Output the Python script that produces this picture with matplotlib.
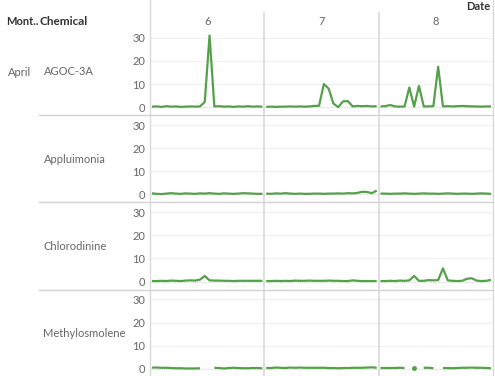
import numpy as np
import matplotlib
matplotlib.use("Agg")
import matplotlib.pyplot as plt
from matplotlib.lines import Line2D

plt.rcParams['font.family'] = ['Lato', 'DejaVu Sans']

month = "April"
chemicals = ["AGOC-3A", "Appluimonia", "Chlorodinine", "Methylosmolene"]
days = ["6", "7", "8"]
hours = list(range(24))
nan = np.nan

agoc_3a = [
    [0.2, 0.3, 0.1, 0.4, 0.2, 0.3, 0.1, 0.2, 0.3, 0.2, 0.3, 2.2, 31.0, 0.3, 0.4, 0.2, 0.3, 0.1, 0.3, 0.2, 0.4, 0.2, 0.3, 0.2],
    [0.1, 0.2, 0.1, 0.2, 0.2, 0.3, 0.2, 0.3, 0.2, 0.3, 0.5, 0.6, 10.0, 8.0, 1.5, 0.0, 2.5, 2.6, 0.3, 0.5, 0.4, 0.5, 0.3, 0.4],
    [0.3, 0.4, 0.9, 0.3, 0.2, 0.3, 8.5, 0.2, 9.2, 0.3, 0.3, 0.4, 17.5, 0.3, 0.4, 0.3, 0.4, 0.5, 0.4, 0.3, 0.3, 0.2, 0.3, 0.3],
]
appluimonia = [
    [0.4, 0.2, 0.1, 0.3, 0.5, 0.3, 0.2, 0.4, 0.3, 0.2, 0.4, 0.3, 0.5, 0.3, 0.2, 0.4, 0.3, 0.2, 0.3, 0.5, 0.4, 0.3, 0.2, 0.2],
    [0.3, 0.2, 0.4, 0.3, 0.5, 0.3, 0.2, 0.3, 0.2, 0.2, 0.3, 0.3, 0.2, 0.3, 0.3, 0.4, 0.3, 0.5, 0.4, 0.6, 1.1, 1.0, 0.5, 1.6],
    [0.3, 0.3, 0.2, 0.3, 0.3, 0.4, 0.3, 0.2, 0.3, 0.4, 0.3, 0.3, 0.2, 0.3, 0.4, 0.3, 0.2, 0.3, 0.3, 0.2, 0.3, 0.4, 0.3, 0.2],
]
chlorodinine = [
    [0.2, 0.2, 0.3, 0.2, 0.4, 0.3, 0.2, 0.4, 0.5, 0.4, 0.8, 2.4, 0.5, 0.4, 0.4, 0.3, 0.3, 0.2, 0.3, 0.3, 0.3, 0.3, 0.3, 0.3],
    [0.2, 0.2, 0.3, 0.2, 0.3, 0.2, 0.4, 0.3, 0.3, 0.4, 0.3, 0.3, 0.3, 0.4, 0.3, 0.3, 0.2, 0.2, 0.5, 0.3, 0.2, 0.2, 0.2, 0.2],
    [0.2, 0.2, 0.3, 0.2, 0.4, 0.3, 0.5, 2.4, 0.3, 0.3, 0.6, 0.5, 0.6, 5.7, 0.5, 0.3, 0.2, 0.3, 1.2, 1.4, 0.4, 0.2, 0.3, 0.7],
]
methylosmolene = [
    [0.5, 0.5, 0.4, 0.4, 0.3, 0.2, 0.2, 0.1, 0.1, 0.1, 0.2, nan, nan, 0.4, 0.3, 0.1, 0.3, 0.4, 0.3, 0.2, 0.2, 0.3, 0.3, 0.2],
    [0.3, 0.3, 0.5, 0.4, 0.3, 0.5, 0.4, 0.5, 0.4, 0.4, 0.4, 0.4, 0.4, 0.3, 0.3, 0.2, 0.3, 0.3, 0.4, 0.4, 0.4, 0.5, 0.6, 0.4],
    [0.3, 0.3, 0.3, 0.3, 0.4, 0.3, nan, 0.5, nan, 0.4, 0.4, 0.2, nan, 0.3, 0.3, 0.2, 0.3, 0.4, 0.4, 0.5, 0.4, 0.4, 0.3, 0.2],
]
series = [agoc_3a, appluimonia, chlorodinine, methylosmolene]
y_ticks = [0, 10, 20, 30]

W, H = 495, 376
fig = plt.figure(figsize=(W / 100, H / 100), dpi=100)
fig.patch.set_facecolor("white")

def fx(px):
    return px / W

def fy(py):
    return 1 - py / H

col_left = [150, 264.3, 378.6]
col_w = 114.3
row_top = [27.9, 115.1, 202.3, 289.5]
row_h = 87.2

green = "#55a04a"
lab_col = "#666666"
fs = 8

for r, chem in enumerate(chemicals):
    for c, day in enumerate(days):
        ax = fig.add_axes([fx(col_left[c]), fy(row_top[r] + row_h), col_w / W, row_h / H])
        ax.set_facecolor("none")
        for s in ax.spines.values():
            s.set_visible(False)
        ax.set_xlim(-0.4, 23.4)
        ax.set_ylim(-3.46, 34.3)
        ax.set_xticks([])
        ax.set_yticks(y_ticks)
        for t in y_ticks[1:]:
            ax.axhline(t, color="#f0f0f0", lw=0.8, zorder=0)
        ax.axhline(0, color="#d6d6d6", lw=0.8, ls=(0, (1, 1)), zorder=1)
        vals = np.array(series[r][c], dtype=float)
        ax.plot(hours, vals, color=green, lw=1.6, solid_capstyle="butt", zorder=3)
        ok = ~np.isnan(vals)
        for i in range(len(vals)):
            if ok[i]:
                left = ok[i - 1] if i > 0 else False
                right = ok[i + 1] if i < len(vals) - 1 else False
                if not left and not right:
                    ax.plot([hours[i]], [vals[i]], "o", color=green, ms=2.5, zorder=3)
        if c == 0:
            ax.tick_params(axis="y", length=0, pad=3.6, labelsize=fs, labelcolor=lab_col)
        else:
            ax.tick_params(axis="y", length=0, labelleft=False)

# separators
for r in range(1, 4):
    y = fy(row_top[r])
    fig.add_artist(Line2D([fx(39), fx(493)], [y, y], color="#cfcfcf", lw=0.9))
fig.add_artist(Line2D([fx(150), fx(150)], [0, 1], color="#d9d9d9", lw=1.0))
fig.add_artist(Line2D([fx(492.9), fx(492.9)], [0, 1], color="#d9d9d9", lw=1.0))
for x in col_left[1:]:
    fig.add_artist(Line2D([fx(x), fx(x)], [0, fy(13)], color="#d9d9d9", lw=1.2))

# headers
fig.text(fx(6), fy(21.7), "Mont..", fontsize=fs, fontweight="bold", color="#333333", va="center")
fig.text(fx(39), fy(21.7), "Chemical", fontsize=8.5, fontweight="bold", color="#333333", va="center")
fig.text(fx(466), fy(6), "Date", fontsize=fs, fontweight="bold", color="#333333", va="center")
for c, day in enumerate(days):
    fig.text(fx(col_left[c] + col_w / 2), fy(21.7), day, fontsize=fs, color=lab_col, ha="center", va="center")

fig.text(fx(8), fy(72), month, fontsize=fs, color=lab_col, va="center")
for r, chem in enumerate(chemicals):
    fig.text(fx(43.5), fy(row_top[r] + 44), chem, fontsize=fs, color=lab_col, va="center")

fig.savefig("out.png", dpi=100, facecolor="white")
